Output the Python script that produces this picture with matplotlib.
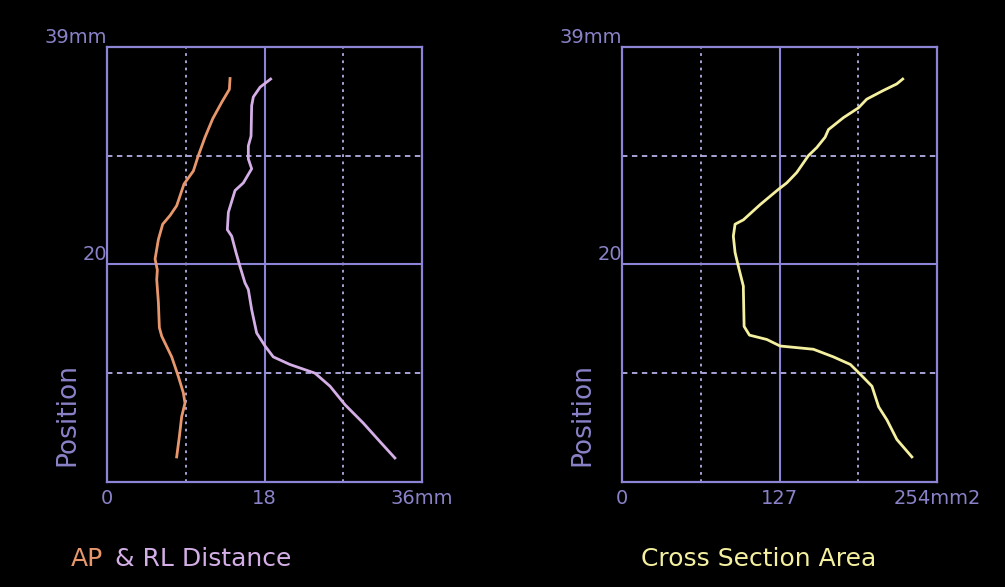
import matplotlib
matplotlib.use('Agg')
import matplotlib.pyplot as plt

# AP distance (orange), mm vs position
ap_x = [14.06, 13.98, 13.1, 12.08, 11.2, 10.43, 9.87, 8.8, 7.96, 7.2, 6.36, 5.87, 5.49,
        5.75, 5.68, 5.87, 5.98, 6.25, 7.39, 8.15, 8.72, 8.91, 8.53, 8.27, 7.96]
ap_y = [37.1, 36.1, 34.9, 33.4, 31.7, 30.0, 28.6, 27.4, 25.4, 24.5, 23.7, 22.3, 20.5,
        19.5, 18.6, 16.5, 14.2, 13.4, 11.5, 9.7, 8.2, 7.25, 6.0, 4.2, 2.3]

# RL distance (lilac)
rl_x = [18.7, 17.49, 16.72, 16.53, 16.46, 16.15, 16.15, 16.53, 15.58, 14.63, 14.25, 13.87,
        13.75, 14.25, 14.74, 15.2, 15.77, 16.15, 16.53, 17.1, 18.06, 19.0, 20.9, 23.77,
        25.49, 27.2, 29.3, 31.2, 32.9]
rl_y = [37.05, 36.3, 35.4, 34.6, 31.8, 30.9, 29.7, 28.8, 27.5, 26.8, 25.8, 24.8,
        23.2, 22.6, 21.1, 19.8, 18.3, 17.7, 15.85, 13.7, 12.5, 11.5, 10.8, 10.0,
        8.8, 7.1, 5.4, 3.7, 2.2]

# cross section area (yellow), mm2
cs_x = [226.3, 221.5, 210.7, 197.3, 190.6, 178.5, 166.4, 163.7, 157.0, 150.2, 140.8, 132.8,
        126.0, 111.3, 97.8, 91.1, 89.7, 91.1, 93.8, 97.8, 97.8, 98.4, 102.7, 116.7, 127.4,
        154.3, 170.4, 184.1, 192.1, 201.5, 206.9, 213.6, 221.6, 233.7]
cs_y = [37.05, 36.6, 36.0, 35.2, 34.4, 33.5, 32.4, 31.7, 30.75, 30.0, 28.45, 27.5,
        26.9, 25.5, 24.1, 23.7, 22.6, 21.1, 19.8, 18.0, 17.7, 14.3, 13.5, 13.1, 12.5,
        12.2, 11.5, 10.8, 9.9, 8.8, 6.9, 5.7, 3.9, 2.3]

left_ticks = [0, 18, 36]
left_labels = ['0', '18', '36mm']
right_ticks = [0, 127, 254]
right_labels = ['0', '127', '254mm2']
y_ticks = [20, 40]
y_labels = ['20', '39mm']

frame = '#8c84d4'
grid_c = '#b4aee6'
txt = '#8a82c8'
orange = '#e8976c'
lilac = '#d4aee6'
yellow = '#f4f0a0'

fig = plt.figure(figsize=(10.05, 5.87), dpi=100, facecolor='black')


def setup(ax, xmax, ticks, labels):
    ax.set_facecolor('black')
    ax.set_xlim(0, xmax)
    ax.set_ylim(0, 40)
    for s in ax.spines.values():
        s.set_color(frame)
        s.set_linewidth(1.6)
    ax.axvline(xmax / 4, color=grid_c, lw=1.3, ls=(0, (1.5, 2.5)))
    ax.axvline(xmax * 3 / 4, color=grid_c, lw=1.3, ls=(0, (1.5, 2.5)))
    ax.axvline(xmax / 2, color=frame, lw=1.5)
    ax.axhline(10, color=grid_c, lw=1.3, ls=(0, (3, 2.5)))
    ax.axhline(30, color=grid_c, lw=1.3, ls=(0, (3, 2.5)))
    ax.axhline(20, color=frame, lw=1.5)
    ax.set_xticks(ticks, labels)
    ax.set_yticks(y_ticks, y_labels)
    ax.tick_params(length=0, colors=txt, labelsize=14)
    ax.tick_params(axis='x', pad=5)
    ax.tick_params(axis='y', pad=0)
    for t in ax.get_yticklabels():
        t.set_va('bottom')
    ax.set_ylabel('Position', color=txt, fontsize=19)
    ax.yaxis.set_label_coords(-0.086, 0.154)


ax1 = fig.add_axes([0.1065, 0.179, 0.3134, 0.741])
setup(ax1, 36, left_ticks, left_labels)
ax1.plot(ap_x, ap_y, color=orange, lw=2.0)
ax1.plot(rl_x, rl_y, color=lilac, lw=2.0)

ax2 = fig.add_axes([0.619, 0.179, 0.3134, 0.741])
setup(ax2, 254, right_ticks, right_labels)
ax2.plot(cs_x, cs_y, color=yellow, lw=2.0)

fig.text(0.07, 0.036, 'AP', color=orange, fontsize=18, va='baseline')
fig.text(0.114, 0.036, '& RL Distance', color=lilac, fontsize=18, va='baseline')
fig.text(0.638, 0.036, 'Cross Section Area', color=yellow, fontsize=18, va='baseline')

fig.savefig('out.png', dpi=100, facecolor='black')
